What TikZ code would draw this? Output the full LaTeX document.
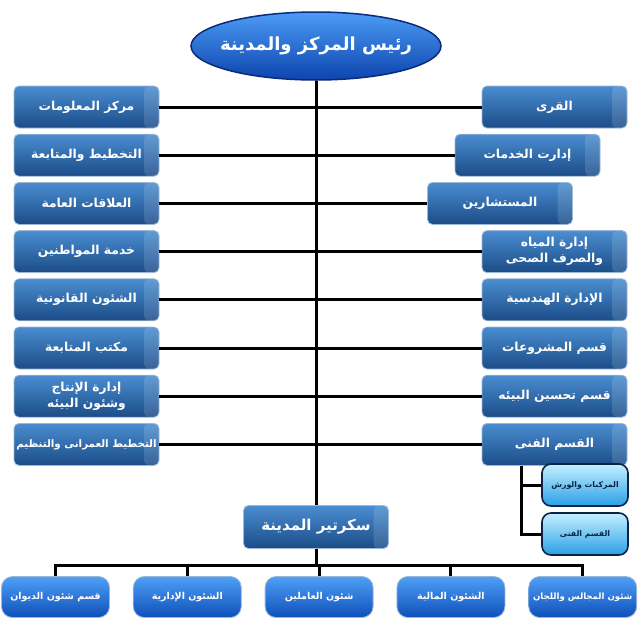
\documentclass[tikz,border=0pt]{standalone}
\usepackage{fontspec}
\newfontfamily\arabicfont[Script=Arabic]{DejaVu Sans}
\TeXXeTstate=1
\usetikzlibrary{positioning,shapes.geometric}

\newcommand{\artxt}[1]{{\arabicfont\beginR #1\endR}}

\definecolor{boxtop}{HTML}{4A8DD0}
\definecolor{boxbot}{HTML}{1B4C88}
\definecolor{boxedge}{HTML}{9DB8D6}
\definecolor{pilltop}{HTML}{4FA0F6}
\definecolor{pillbot}{HTML}{0E4FBA}
\definecolor{subtop}{HTML}{C4F0FF}
\definecolor{subbot}{HTML}{2A9FE6}
\definecolor{subedge}{HTML}{0B2345}
\definecolor{ovaltop}{HTML}{4C9CF4}
\definecolor{ovalbot}{HTML}{0C44AE}
\definecolor{ovaledge}{HTML}{0A2A7A}

\tikzset{
  link/.style={line width=3pt, black},
  unitbox/.style={draw=boxedge, line width=0.8pt, rounded corners=5pt,
    top color=boxtop, bottom color=boxbot,
    minimum width=145pt, minimum height=42pt, inner sep=2pt,
    text=white, align=center, font=\bfseries\fontsize{12.3}{16}\selectfont,
    path picture={\fill[white, opacity=0.13]
      ([xshift=-15pt]path picture bounding box.north east)
      rectangle (path picture bounding box.south east);}},
  pillbox/.style={draw=boxedge, line width=0.8pt, rounded corners=11pt,
    top color=pilltop, bottom color=pillbot,
    minimum width=108pt, minimum height=41pt, inner sep=1pt,
    text=white, font=\bfseries\fontsize{9.5}{11}\selectfont},
  subbox/.style={draw=subedge, line width=1.6pt, rounded corners=9pt,
    top color=subtop, bottom color=subbot,
    minimum width=86pt, minimum height=42pt, inner sep=1pt,
    text=subedge, font=\bfseries\fontsize{7.8}{9}\selectfont},
  headoval/.style={ellipse, draw=ovaledge, line width=1.5pt,
    top color=ovaltop, bottom color=ovalbot,
    minimum width=250pt, minimum height=68pt, inner xsep=-12pt, inner ysep=0pt,
    text=white, font=\bfseries\fontsize{18}{20}\selectfont},
}

\begin{document}
\begin{tikzpicture}[x=1pt, y=-1pt, node distance=5.4pt]
  \useasboundingbox (0,0) rectangle (640,640);

  \node (head) [headoval] at (316,46) {\artxt{رئيس المركز والمدينة}};

  % left column
  \node (L1) [unitbox] at (86.5,107) {\artxt{مركز المعلومات}};
  \node (L2) [unitbox, below=of L1] {\artxt{التخطيط والمتابعة}};
  \node (L3) [unitbox, below=of L2] {\artxt{العلاقات العامة}};
  \node (L4) [unitbox, below=of L3] {\artxt{خدمة المواطنين}};
  \node (L5) [unitbox, below=of L4] {\artxt{الشئون القانونية}};
  \node (L6) [unitbox, below=of L5] {\artxt{مكتب المتابعة}};
  \node (L7) [unitbox, below=of L6] {\artxt{إدارة الإنتاج}\\\artxt{وشئون البيئه}};
  \node (L8) [unitbox, below=of L7, font=\bfseries\fontsize{10.3}{12}\selectfont]
    {\artxt{التخطيط العمرانى والتنظيم}};

  % right column
  \node (R1) [unitbox] at (554.5,107) {\artxt{القرى}};
  \node (R2) [unitbox, below=of R1, xshift=-27pt] {\artxt{إدارت الخدمات}};
  \node (R3) [unitbox, below=of R2, xshift=-27.5pt] {\artxt{المستشارين}};
  \node (R4) [unitbox, below=of R3, xshift=54.5pt] {\artxt{إدارة المياه}\\\artxt{والصرف الصحى}};
  \node (R5) [unitbox, below=of R4] {\artxt{الإدارة الهندسية}};
  \node (R6) [unitbox, below=of R5] {\artxt{قسم المشروعات}};
  \node (R7) [unitbox, below=of R6] {\artxt{قسم تحسين البيئه}};
  \node (R8) [unitbox, below=of R7] {\artxt{القسم الفنى}};

  \node (S1) [subbox] at (585,485) {\artxt{المركبات والورش}};
  \node (S2) [subbox, below=of S1] {\artxt{القسم الفنى}};

  % secretary and its sections
  \node (sec) [unitbox, minimum height=43pt, font=\bfseries\fontsize{15}{17}\selectfont]
    at (316,527) {\artxt{سكرتير المدينة}};
  \node (B1) [pillbox] at (55.5,597) {\artxt{قسم شئون الديوان}};
  \node (B2) [pillbox, right=23pt of B1] {\artxt{الشئون الإدارية}};
  \node (B3) [pillbox, right=23pt of B2] {\artxt{شئون العاملين}};
  \node (B4) [pillbox, right=23pt of B3] {\artxt{الشئون المالية}};
  \node (B5) [pillbox, right=23pt of B4, font=\bfseries\fontsize{8.6}{10}\selectfont]
    {\artxt{شئون المجالس واللجان}};

  \coordinate (fork) at (521,0);
  \coordinate (bus) at (316,565);

  \draw [link] (head.south) -- (sec.north);
  \foreach \n in {L1,L2,L3,L4,L5,L6,L7,L8}
    \draw [link] (\n.east) -- (\n.east -| head.south);
  \foreach \n in {R1,R2,R3,R4,R5,R6,R7,R8}
    \draw [link] (\n.west) -- (\n.west -| head.south);

  \draw [link] (R8.south -| fork) |- (S2.west);
  \draw [link] (S1.west) -- (S1.west -| fork);

  \draw [link] (sec.south) -- (bus);
  \draw [link] (B1.north) |- (B5.north |- bus) -- (B5.north);
  \foreach \n in {B2,B3,B4}
    \draw [link] (\n.north) -- (\n.north |- bus);

\end{tikzpicture}
\end{document}
